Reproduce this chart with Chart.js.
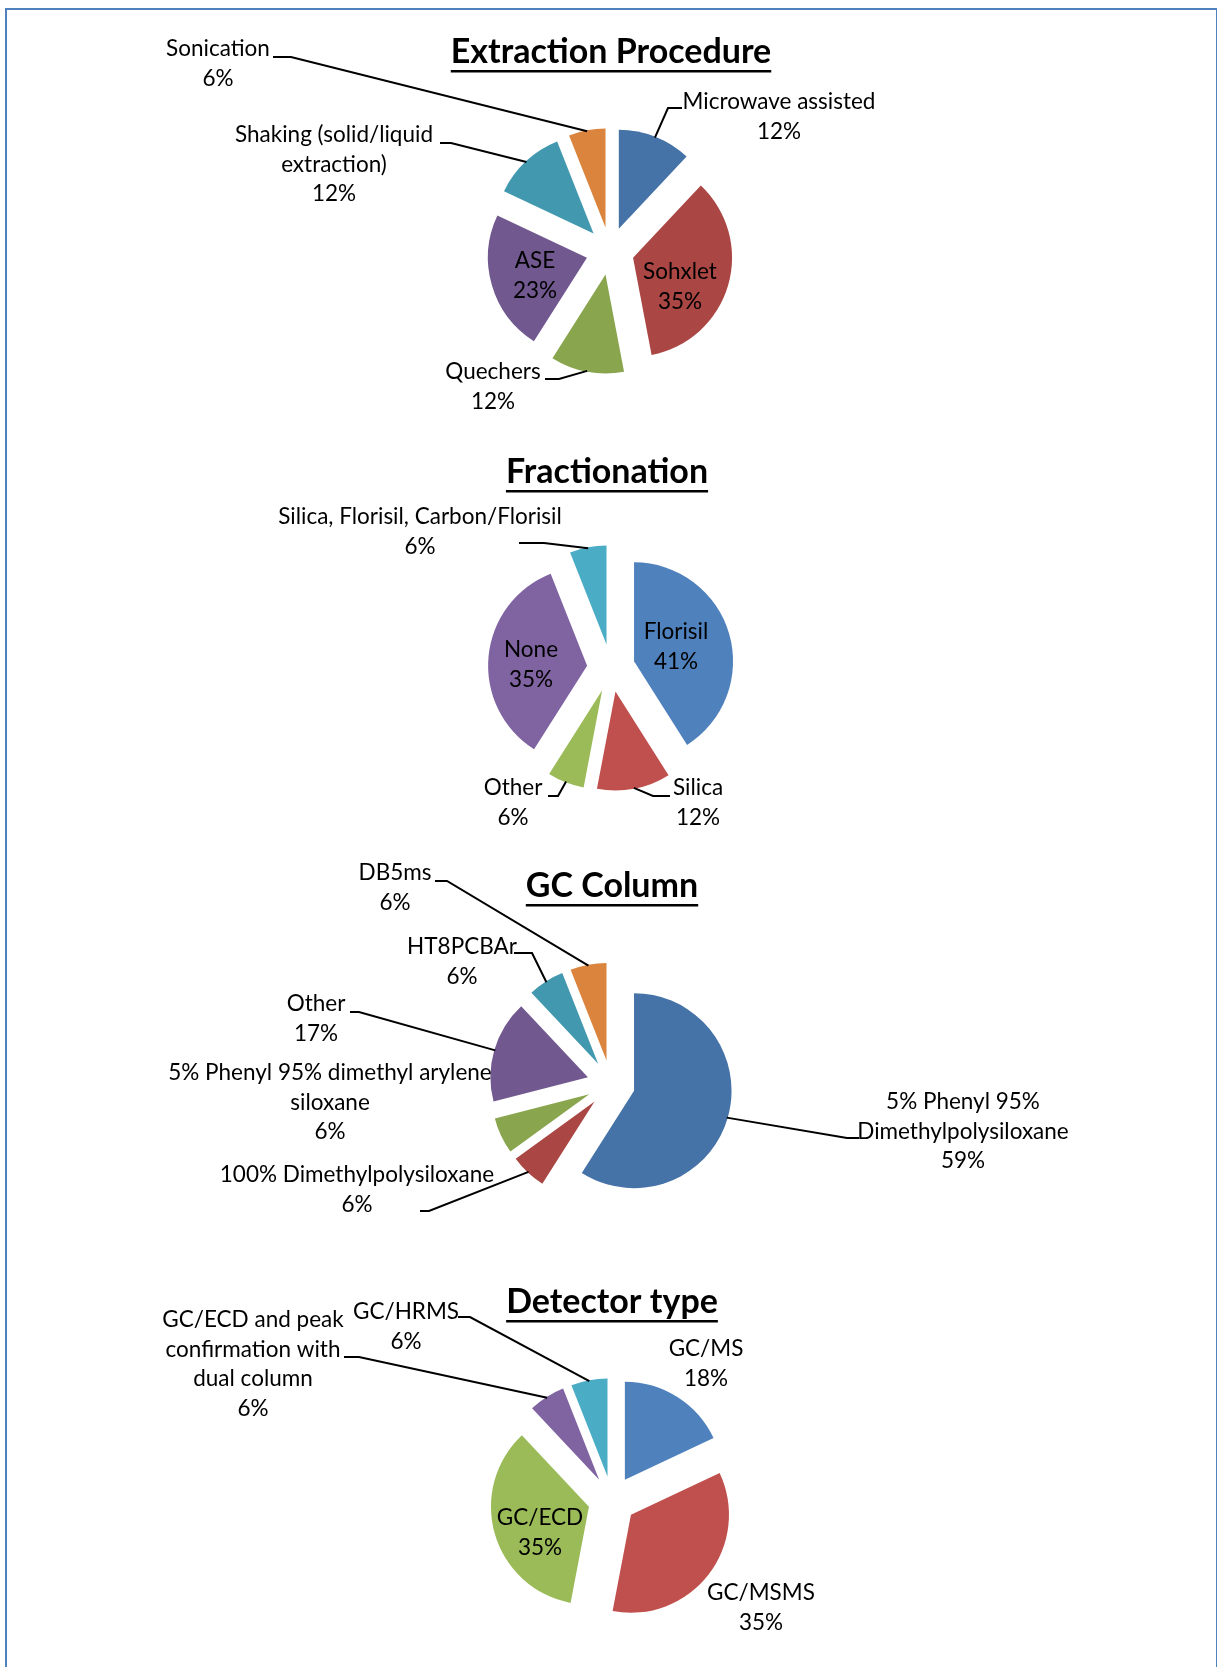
<!DOCTYPE html>
<html>
<head>
<meta charset="utf-8">
<script src="https://cdn.jsdelivr.net/npm/chart.js@4.4.1/dist/chart.umd.min.js"></script>
<style>
  html, body { margin: 0; padding: 0; background: #fff; overflow: hidden; }
  #page { position: relative; width: 1218px; height: 1667px; overflow: hidden; }
  #frame { position: absolute; left: 5px; top: 8px; width: 1212px; height: 1700px; box-sizing: border-box;
           border: 2px solid #4f81bd; border-right-width: 1px; border-bottom: none; }
  canvas { position: absolute; left: 0; }
</style>
</head>
<body>
<div id="page">
  <div id="frame"></div>
  <canvas id="extraction" width="1218" height="410" style="top:30px"></canvas>
  <canvas id="fractionation" width="1218" height="410" style="top:440px"></canvas>
  <canvas id="column" width="1218" height="410" style="top:850px"></canvas>
  <canvas id="detector" width="1218" height="397" style="top:1270px"></canvas>
</div>
<script>
// data, in percent (as printed on the chart), clockwise from 12 o'clock
const extractionLabels = ['Microwave assisted', 'Sohxlet', 'Quechers', 'ASE', 'Shaking (solid/liquid\nextraction)', 'Sonication'];
const extractionValues = [12, 35, 12, 23, 12, 6];

const fractionationLabels = ['Florisil', 'Silica', 'Other', 'None', 'Silica, Florisil, Carbon/Florisil'];
const fractionationValues = [41, 12, 6, 35, 6];

const columnLabels = ['5% Phenyl 95%\nDimethylpolysiloxane', '100% Dimethylpolysiloxane', '5% Phenyl 95% dimethyl arylene\nsiloxane', 'Other', 'HT8PCBAr', 'DB5ms'];
const columnValues = [59, 6, 6, 17, 6, 6];

const detectorLabels = ['GC/MS', 'GC/MSMS', 'GC/ECD', 'GC/ECD and peak\nconfirmation with\ndual column', 'GC/HRMS'];
const detectorValues = [18, 35, 35, 6, 6];

// styles
const darkColors = ['#4572a7', '#aa4643', '#89a54e', '#71588f', '#4198af', '#db843d'];
const lightColors = ['#4f81bd', '#c0504d', '#9bbb59', '#8064a2', '#4bacc6'];
const FONT = 'Lato, "Liberation Sans", sans-serif';
const EXPLODE = 24;
const LINE_H = 29.5;

// label placement (page coordinates); tick = [x1, x2, y] short leader piece next to the label
const extractionPlaces = [
  { x: 779, y: 102, tick: [682, 668, 108] },
  { x: 680, y: 272 },
  { x: 493, y: 372, tick: [545, 559, 379] },
  { x: 535, y: 261 },
  { x: 334, y: 135, tick: [440, 451, 143] },
  { x: 218, y: 49, tick: [273, 291, 57] }
];
const fractionationPlaces = [
  { x: 676, y: 632 },
  { x: 698, y: 788, tick: [670, 653, 796] },
  { x: 513, y: 788, tick: [548, 558, 796] },
  { x: 531, y: 650 },
  { x: 420, y: 517, tick: [519, 544, 543] }
];
const columnPlaces = [
  { x: 963, y: 1102, tick: [859, 847, 1138] },
  { x: 357, y: 1175, tick: [420, 429, 1211] },
  { x: 330, y: 1073 },
  { x: 316, y: 1004, tick: [350, 359, 1012] },
  { x: 462, y: 947, tick: [514, 532, 953] },
  { x: 395, y: 873, tick: [435, 447, 881] }
];
const detectorPlaces = [
  { x: 706, y: 1349 },
  { x: 761, y: 1593 },
  { x: 540, y: 1518 },
  { x: 253, y: 1320, tick: [344, 359, 1357] },
  { x: 406, y: 1312, tick: [458, 470, 1317] }
];

// exploded slices + Excel-like labels with leader lines
function excelPie(top, title, places) {
  return {
    id: 'excelPie',
    beforeDatasetDraw(chart, args) {
      const ctx = chart.ctx;
      args.meta.data.forEach(arc => {
        const mid = (arc.startAngle + arc.endAngle) / 2;
        ctx.save();
        ctx.translate(Math.cos(mid) * EXPLODE, Math.sin(mid) * EXPLODE);
        arc.draw(ctx);
        ctx.restore();
      });
      return false;
    },
    afterDraw(chart) {
      const ctx = chart.ctx;
      const meta = chart.getDatasetMeta(0);
      const values = chart.data.datasets[0].data;
      ctx.save();
      ctx.fillStyle = '#000';
      ctx.strokeStyle = '#000';

      // title, underlined
      ctx.font = 'bold 34px ' + FONT;
      ctx.textAlign = 'center';
      ctx.textBaseline = 'alphabetic';
      ctx.fillText(title.text, title.x, title.y - top);
      const w = ctx.measureText(title.text).width;
      ctx.fillRect(title.x - w / 2, title.y - top + 7, w, 2.5);

      // leader lines
      ctx.lineWidth = 2;
      meta.data.forEach((arc, i) => {
        const p = places[i];
        if (!p.tick) return;
        const mid = (arc.startAngle + arc.endAngle) / 2;
        const rr = arc.outerRadius + EXPLODE - 1;
        ctx.beginPath();
        ctx.moveTo(p.tick[0], p.tick[2] - top);
        ctx.lineTo(p.tick[1], p.tick[2] - top);
        ctx.lineTo(arc.x + Math.cos(mid) * rr, arc.y + Math.sin(mid) * rr);
        ctx.stroke();
      });

      // labels
      ctx.font = '22.5px ' + FONT;
      ctx.textBaseline = 'middle';
      meta.data.forEach((arc, i) => {
        const p = places[i];
        const lines = chart.data.labels[i].split('\n').concat(values[i] + '%');
        lines.forEach((s, k) => ctx.fillText(s, p.x, p.y - top + k * LINE_H));
      });
      ctx.restore();
    }
  };
}

function makePie(id, labels, values, colors, radius, center, title, places) {
  const canvas = document.getElementById(id);
  const top = parseFloat(canvas.style.top);
  const W = canvas.width, H = canvas.height;
  const cy = center[1] - top;
  const padding = {
    left: Math.max(0, 2 * center[0] - W),
    right: Math.max(0, W - 2 * center[0]),
    top: Math.max(0, 2 * cy - H),
    bottom: Math.max(0, H - 2 * cy)
  };
  new Chart(canvas, {
    type: 'pie',
    data: {
      labels: labels,
      datasets: [{
        data: values,
        backgroundColor: colors,
        borderWidth: 0,
        radius: radius
      }]
    },
    options: {
      responsive: false,
      animation: false,
      events: [],
      layout: { padding: padding },
      plugins: {
        legend: { display: false },
        tooltip: { enabled: false }
      }
    },
    plugins: [excelPie(top, title, places)]
  });
}

makePie('extraction', extractionLabels, extractionValues, darkColors, 99, [610, 251],
  { text: 'Extraction Procedure', x: 611, y: 63 }, extractionPlaces);
makePie('fractionation', fractionationLabels, fractionationValues, lightColors, 99, [611, 668],
  { text: 'Fractionation', x: 607, y: 483 }, fractionationPlaces);
makePie('column', columnLabels, columnValues, darkColors, 97.5, [611, 1084],
  { text: 'GC Column', x: 612, y: 897 }, columnPlaces);
makePie('detector', detectorLabels, detectorValues, lightColors, 98, [612, 1500],
  { text: 'Detector type', x: 612, y: 1313 }, detectorPlaces);
</script>
</body>
</html>
